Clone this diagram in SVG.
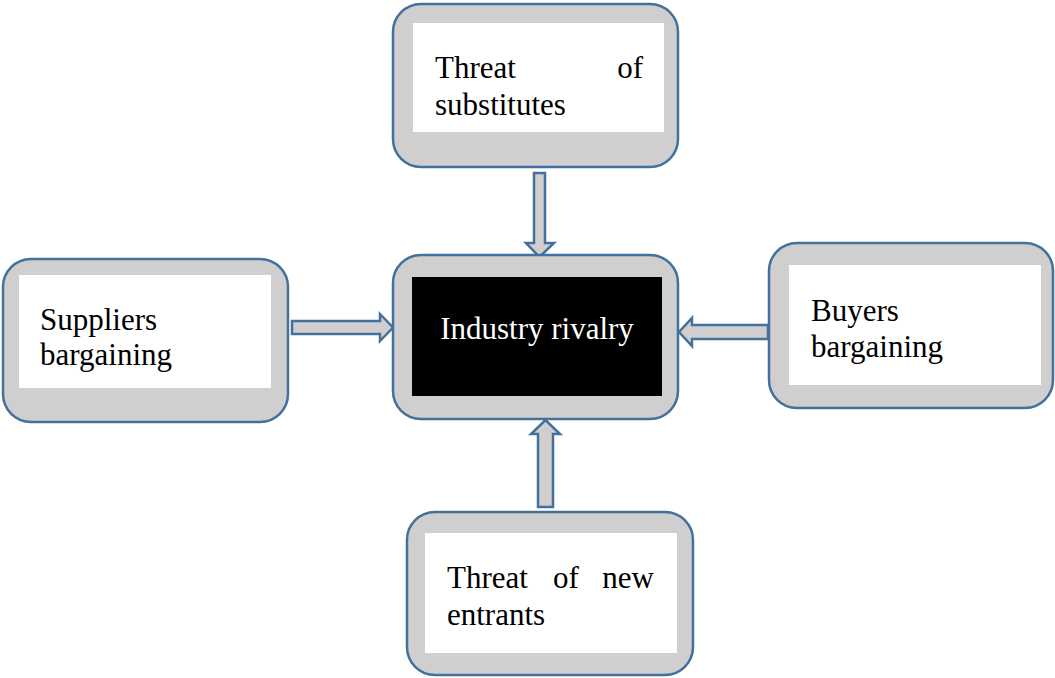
<svg xmlns="http://www.w3.org/2000/svg" width="1055" height="678" viewBox="0 0 1055 678">
<style>
.outer{fill:#D0CECE;stroke:#41719C;stroke-width:2.5}
.inner{fill:#FFFFFF}
.t{font-family:"Liberation Serif","Times New Roman",serif;font-size:31px;fill:#000}
.arr{fill:#D0CECE;stroke:#41719C;stroke-width:2.5;stroke-linejoin:miter}
</style>
<rect width="1055" height="678" fill="#FFFFFF"/>
<g id="connectors">
<polygon class="arr" points="534,173 545,173 545,243 554,243 539.5,257 526,243 534,243"/>
<polygon class="arr" points="292,321 380,321 380,314 393,327.5 380,341 380,334 292,334"/>
<polygon class="arr" points="768,325 692,325 692,318 679,332 692,346 692,339 768,339"/>
<polygon class="arr" points="538,507 553,507 553,434 560,434 545.5,420 531,434 538,434"/>
</g>
<g id="node-substitutes">
<rect class="outer" x="393" y="4" width="285" height="163" rx="28"/>
<rect class="inner" x="413" y="23" width="251" height="109"/>
<text class="t" x="435" y="78">Threat</text>
<text class="t" x="643" y="78" text-anchor="end">of</text>
<text class="t" x="435" y="115">substitutes</text>
</g>
<g id="node-rivalry">
<rect class="outer" x="393" y="255" width="285" height="164" rx="28"/>
<rect x="412" y="277" width="250" height="119" fill="#000000"/>
<text class="t" x="537" y="339" text-anchor="middle" fill="#FFFFFF" style="fill:#FFFFFF">Industry rivalry</text>
</g>
<g id="node-suppliers">
<rect class="outer" x="3" y="259" width="285" height="163" rx="28"/>
<rect class="inner" x="19" y="275" width="252" height="113"/>
<text class="t" x="40" y="330">Suppliers</text>
<text class="t" x="40" y="365">bargaining</text>
</g>
<g id="node-buyers">
<rect class="outer" x="769" y="243" width="284" height="165" rx="28"/>
<rect class="inner" x="789" y="265" width="252" height="120"/>
<text class="t" x="811" y="321">Buyers</text>
<text class="t" x="811" y="357">bargaining</text>
</g>
<g id="node-entrants">
<rect class="outer" x="407" y="512" width="286" height="163" rx="28"/>
<rect class="inner" x="425" y="533" width="252" height="120"/>
<text class="t" x="447" y="588">Threat</text>
<text class="t" x="553" y="588">of</text>
<text class="t" x="654" y="588" text-anchor="end">new</text>
<text class="t" x="447" y="625">entrants</text>
</g>
</svg>
